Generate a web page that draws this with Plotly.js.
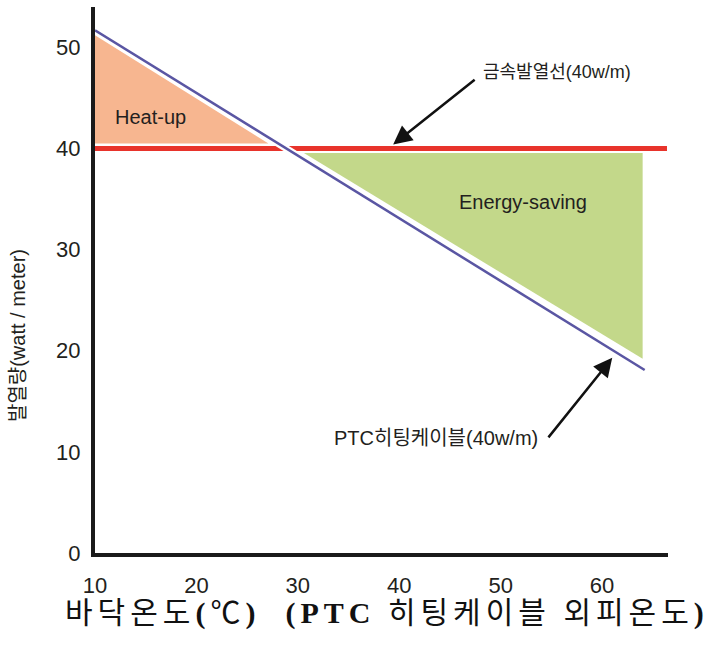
<!DOCTYPE html>
<html>
<head>
<meta charset="utf-8">
<script src="https://cdn.plot.ly/plotly-3.0.1.min.js"></script>
<style>html,body{margin:0;padding:0;background:#fff;}#chart{width:714px;height:649px;}</style>
</head>
<body>
<div id="chart"></div>
<script>
// ---- data ----
const metalX = [10, 66.4];          // 금속발열선 (constant 40 w/m)
const metalY = [40, 40];
const ptcX = [10, 64.2];            // PTC 히팅케이블
const ptcY = [51.7, 18.1];
const heatX = [10, 10, 27.1];       // Heat-up area
const heatY = [51.2, 40.5, 40.5];
const saveX = [30.6, 64.0, 64.0];   // Energy-saving area
const saveY = [39.55, 39.55, 19.2];
const xTicks = [10, 20, 30, 40, 50, 60];
const xTickText = ['10', '20', '30', '40', '50', '60'];
const yTicks = [0, 10, 20, 30, 40, 50];
const yTickText = ['0', '10', '20', '30', '40', '50'];

const latin = 'Liberation Sans, Arial, "Noto Sans CJK KR", sans-serif';
const ink = '#231f20';

const traces = [
  {x: heatX, y: heatY, type: 'scatter', mode: 'lines', fill: 'toself',
   fillcolor: '#f7b690', line: {width: 0, color: '#f7b690'}, hoverinfo: 'skip', showlegend: false},
  {x: saveX, y: saveY, type: 'scatter', mode: 'lines', fill: 'toself',
   fillcolor: '#c3d88a', line: {width: 0, color: '#c3d88a'}, hoverinfo: 'skip', showlegend: false},
  {x: metalX, y: metalY, type: 'scatter', mode: 'lines',
   line: {color: '#e8332b', width: 5}, showlegend: false},
  {x: ptcX, y: ptcY, type: 'scatter', mode: 'lines',
   line: {color: '#ffffff', width: 7}, hoverinfo: 'skip', showlegend: false},
  {x: ptcX, y: ptcY, type: 'scatter', mode: 'lines',
   line: {color: '#5a56a3', width: 2.5}, showlegend: false}
];

const layout = {
  width: 714, height: 649,
  margin: {l: 95, r: 46, t: 7, b: 96},
  paper_bgcolor: '#ffffff', plot_bgcolor: '#ffffff',
  showlegend: false,
  xaxis: {
    range: [10, 66.5], showgrid: false, zeroline: false,
    showline: true, linecolor: '#1a1a1a', linewidth: 4,
    tickvals: xTicks, ticktext: xTickText, ticks: '',
    ticklabelstandoff: 10,
    tickfont: {family: latin, size: 22, color: ink}
  },
  yaxis: {
    range: [0, 54], showgrid: false, zeroline: false,
    showline: true, linecolor: '#1a1a1a', linewidth: 4,
    tickvals: yTicks, ticktext: yTickText, ticks: '',
    ticklabelstandoff: 6,
    tickfont: {family: latin, size: 22, color: ink}
  },
  annotations: [
    {text: 'Heat-up', showarrow: false,
     font: {family: latin, size: 20, color: ink}},
    {text: 'Energy-saving', showarrow: false,
     font: {family: latin, size: 20, color: ink}},
    {text: '금속발열선(40w/m)', showarrow: false,
     font: {family: latin, size: 18, color: ink}},
    {text: 'PTC히팅케이블(40w/m)', showarrow: false,
     font: {family: latin, size: 20, color: ink}},
    {text: '', showarrow: true, arrowhead: 2, arrowsize: 1.5, arrowwidth: 2.5,
     arrowcolor: '#111111'},
    {text: '', showarrow: true, arrowhead: 2, arrowsize: 1.5, arrowwidth: 2.5,
     arrowcolor: '#111111'},
    {text: '발열량(watt / meter)', textangle: -90, showarrow: false,
     font: {family: latin, size: 20, color: ink}},
    {text: '<span style="letter-spacing:5px">바닥온도<b>(</b>℃<b>)</b>\u00a0\u00a0<b>(PTC</b> 히팅케이블 외피온도<b>)</b></span>', showarrow: false,
     font: {family: 'Liberation Serif, "Noto Sans CJK KR", serif', size: 30, color: '#111111'}}
  ]
};

// pixel helpers for placing text relative to the plot area (positions only)
const L = 95, T = 7, W = 714 - 95 - 46, H = 649 - 7 - 96;
function px(x) { return (x - L) / W; }
function py(y) { return (T + H - y) / H; }
const a = layout.annotations;
const P = {xref: 'paper', yref: 'paper', xanchor: 'center', yanchor: 'middle'};
Object.assign(a[0], P, {x: px(150), y: py(117)});
Object.assign(a[1], P, {x: px(523), y: py(202)});
Object.assign(a[2], P, {xanchor: 'left', x: px(481), y: py(72)});
Object.assign(a[3], P, {xanchor: 'left', x: px(332), y: py(438)});
// arrows: heads in data coordinates, tails as pixel offsets
Object.assign(a[4], {xref: 'x', yref: 'y', x: 39.4, y: 40.4, ax: 83, ay: -66});
Object.assign(a[5], {xref: 'x', yref: 'y', x: 61.0, y: 19.3, ax: -65, ay: 81});
Object.assign(a[6], P, {x: px(18), y: py(336)});
Object.assign(a[7], P, {x: px(387), y: py(613)});

Plotly.newPlot('chart', traces, layout, {staticPlot: true, displayModeBar: false});
</script>
</body>
</html>
